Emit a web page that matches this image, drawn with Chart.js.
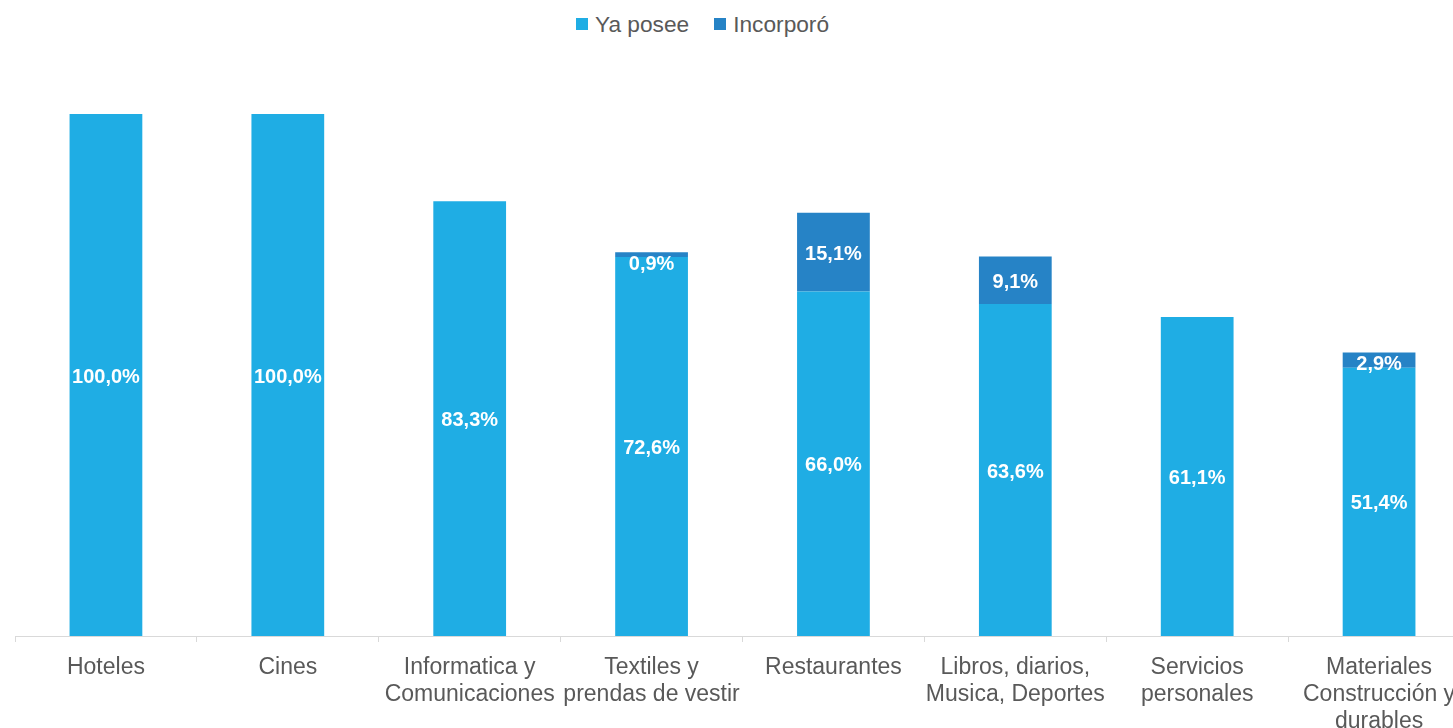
<!DOCTYPE html>
<html>
<head>
<meta charset="utf-8">
<script src="https://cdn.jsdelivr.net/npm/chart.js@4"></script>
<style>
  body { margin: 0; overflow: hidden; background: #fff; font-family: "Liberation Sans", Arial, sans-serif; }
  #leyenda { position: absolute; left: 576px; top: 12px; height: 24px; display: flex; align-items: center; color: #595959; font-size: 22.7px; }
  #leyenda span.cuadro { display: inline-block; width: 12px; height: 12px; margin-right: 7px; }
  #leyenda span.item { display: flex; align-items: center; margin-right: 25px; }
  canvas { position: absolute; left: 0; top: 0; }
</style>
</head>
<body>
<div id="leyenda"></div>
<canvas id="grafico" width="1470" height="728"></canvas>
<script>
const categorias = [
    "Hoteles",
    "Cines",
    ["Informatica y", "Comunicaciones"],
    ["Textiles y", "prendas de vestir"],
    "Restaurantes",
    ["Libros, diarios,", "Musica, Deportes"],
    ["Servicios", "personales"],
    ["Materiales", "Construcción y", "durables"]
];
const yaPosee = [100.0, 100.0, 83.3, 72.6, 66.0, 63.6, 61.1, 51.4];
const incorporo = [0, 0, 0, 0.9, 15.1, 9.1, 0, 2.9];

const colores = ["#1FADE4", "#2683C6"];
const nombres = ["Ya posee", "Incorporó"];

// leyenda en HTML (arriba, centrada como en el original)
const leyenda = document.getElementById("leyenda");
nombres.forEach((n, i) => {
    leyenda.innerHTML += `<span class="item"><span class="cuadro" style="background:${colores[i]}"></span>${n}</span>`;
});

// etiquetas blancas dentro de las barras
const etiquetas = {
    id: "etiquetas",
    afterDatasetsDraw(chart) {
        const ctx = chart.ctx;
        ctx.save();
        ctx.fillStyle = "#fff";
        ctx.font = "bold 20px 'Liberation Sans', Arial, sans-serif";
        ctx.textAlign = "center";
        ctx.textBaseline = "middle";
        chart.data.datasets.forEach((ds, d) => {
            chart.getDatasetMeta(d).data.forEach((bar, i) => {
                const v = ds.data[i];
                if (!v) return;
                let y = (bar.y + bar.base) / 2;
                if (d === 1) y = Math.max(y, bar.y + 10);
                ctx.fillText(v.toFixed(1).replace(".", ",") + "%", bar.x, y + 2);
            });
        });
        ctx.restore();
    }
};

const ctx = document.getElementById("grafico").getContext("2d");
const grafico = new Chart(ctx, {
    type: "bar",
    data: {
        labels: categorias,
        datasets: [
            { label: nombres[0], data: yaPosee, backgroundColor: colores[0] },
            { label: nombres[1], data: incorporo, backgroundColor: colores[1] }
        ]
    },
    options: {
        responsive: false,
        devicePixelRatio: 1,
        animation: false,
        categoryPercentage: 1,
        barPercentage: 0.4,
        layout: { padding: { top: 114, left: 15, right: 0, bottom: 0 } },
        plugins: {
            legend: { display: false },
            tooltip: { enabled: false }
        },
        scales: {
            x: {
                stacked: true,
                grid: { drawOnChartArea: false, tickLength: 6, color: "#d9d9d9" },
                border: { color: "#d9d9d9" },
                ticks: {
                    color: "#595959",
                    padding: 12,
                    maxRotation: 0,
                    autoSkip: false,
                    font: { family: "'Liberation Sans', Arial, sans-serif", size: 23, lineHeight: 1.17 }
                },
                afterFit: (scale) => { scale.height = 92; }
            },
            y: {
                stacked: true,
                display: false,
                min: 0,
                max: 100
            }
        }
    },
    plugins: [etiquetas]
});
</script>
</body>
</html>
